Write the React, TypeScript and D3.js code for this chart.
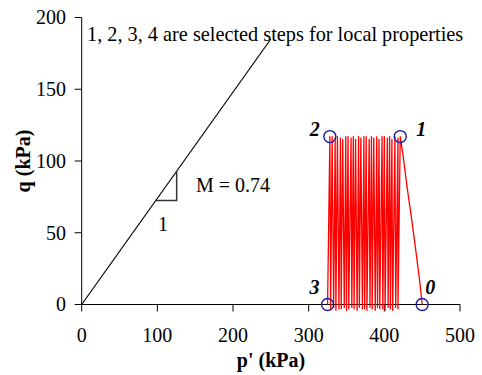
import React from "react";
import * as d3 from "d3";

// Axis ticks
const xTicks = [0, 100, 200, 300, 400, 500];
const yTicks = [0, 50, 100, 150, 200];

// Critical state line (M = 0.74)
const cslP = [0, 250];
const cslQ = [0, 185];

// Slope triangle vertices
const triP = [98, 125.5, 125.5];
const triQ = [72.5, 72.5, 92.9];

// Initial loading path from point 0 to point 1
const approachP = [450, 447, 442, 436, 430, 425, 421];
const approachQ = [0, 15, 36, 60, 82, 103, 117];

// Cyclic loading peaks and troughs
const topP = [421, 418, 414, 410, 407, 404, 400, 397, 393, 390, 386, 383, 380, 376, 373, 369, 366, 362, 359, 356, 352, 349, 345, 342, 338, 335, 331, 328];
const topQ = [117, 116, 117, 115, 117, 116, 117, 117, 115, 117, 116, 117, 115, 117, 117, 116, 117, 115, 117, 116, 117, 117, 115, 116, 117, 116, 117, 117];
const bottomP = [418, 415, 411, 408, 405, 401, 398, 394, 391, 388, 384, 381, 377, 374, 371, 367, 364, 360, 357, 353, 350, 347, 343, 340, 336, 333, 329, 325];
const bottomQ = [-3, -2, -4, -3, -2, -4, -3, -3, -2, -4, -3, -2, -4, -3, -3, -2, -4, -3, -2, -3, -4, -2, -3, -3, -4, -2, -3, 0];

// Selected steps
const markerLabels = ["0", "1", "2", "3"];
const markerP = [450, 421, 328, 325];
const markerQ = [0, 117, 117, 0];

const FONT = "'Liberation Serif', 'Times New Roman', serif";

export default function App() {
  const x = d3.scaleLinear().domain([0, 500]).range([81.7, 460]);
  const y = d3.scaleLinear().domain([0, 200]).range([304.5, 17.5]);

  const pts: [number, number][] = [];
  approachP.forEach((p, i) => pts.push([p, approachQ[i]]));
  topP.forEach((p, i) => {
    if (i > 0) pts.push([p, topQ[i]]);
    pts.push([bottomP[i], bottomQ[i]]);
  });
  const line = d3
    .line<[number, number]>()
    .x((d) => x(d[0]))
    .y((d) => y(d[1]));

  const csl: [number, number][] = cslP.map((p, i) => [p, cslQ[i]]);
  const tri: [number, number][] = triP.map((p, i) => [p, triQ[i]]);

  const labelOffsets = [
    [3, -11],
    [16, -1],
    [-20, -1],
    [-18, -11],
  ];

  return (
    <svg
      width={482}
      height={375}
      style={{ position: "absolute", left: 0, top: 0, background: "#fff", fontFamily: FONT }}
    >
      <rect width={482} height={375} fill="#fff" />
      {/* axes */}
      <line x1={x(0)} x2={x(500)} y1={y(0)} y2={y(0)} stroke="#000" strokeWidth={1} />
      <line x1={x(0)} x2={x(0)} y1={y(0)} y2={y(200)} stroke="#000" strokeWidth={1} />
      {xTicks.map((t) => (
        <g key={"x" + t}>
          <line x1={x(t)} x2={x(t)} y1={y(0)} y2={y(0) + 7} stroke="#000" />
          <text x={x(t)} y={342} textAnchor="middle" fontSize={20}>
            {t}
          </text>
        </g>
      ))}
      {yTicks.map((t) => (
        <g key={"y" + t}>
          <line x1={x(0) - 7} x2={x(0)} y1={y(t)} y2={y(t)} stroke="#000" />
          <text x={66} y={y(t)} dy="0.34em" textAnchor="end" fontSize={20}>
            {t}
          </text>
        </g>
      ))}
      <text x={271} y={367} textAnchor="middle" fontSize={20} fontWeight="bold">
        p' (kPa)
      </text>
      <text
        transform={`translate(30,${(y(0) + y(200)) / 2}) rotate(-90)`}
        textAnchor="middle"
        fontSize={20}
        fontWeight="bold"
      >
        q (kPa)
      </text>

      {/* CSL */}
      <path d={line(csl) || ""} fill="none" stroke="#000" strokeWidth={1.2} />
      <path d={line(tri) || ""} fill="none" stroke="#333" strokeWidth={1.5} />
      <text x={196} y={192} fontSize={20}>
        M = 0.74
      </text>
      <text x={158} y={231} fontSize={20}>
        1
      </text>
      <text x={87} y={41} fontSize={20.3}>
        1, 2, 3, 4 are selected steps for local properties
      </text>

      {/* stress path */}
      <path d={line(pts) || ""} fill="none" stroke="#ff0000" strokeWidth={1.3} strokeLinejoin="round" />

      {markerP.map((p, i) => (
        <g key={"m" + i}>
          <circle cx={x(p)} cy={y(markerQ[i])} r={6} fill="none" stroke="#1a1a9a" strokeWidth={1.4} />
          <text
            x={x(p) + labelOffsets[i][0]}
            y={y(markerQ[i]) + labelOffsets[i][1]}
            fontSize={20}
            fontWeight="bold"
            fontStyle="italic"
          >
            {markerLabels[i]}
          </text>
        </g>
      ))}
    </svg>
  );
}
